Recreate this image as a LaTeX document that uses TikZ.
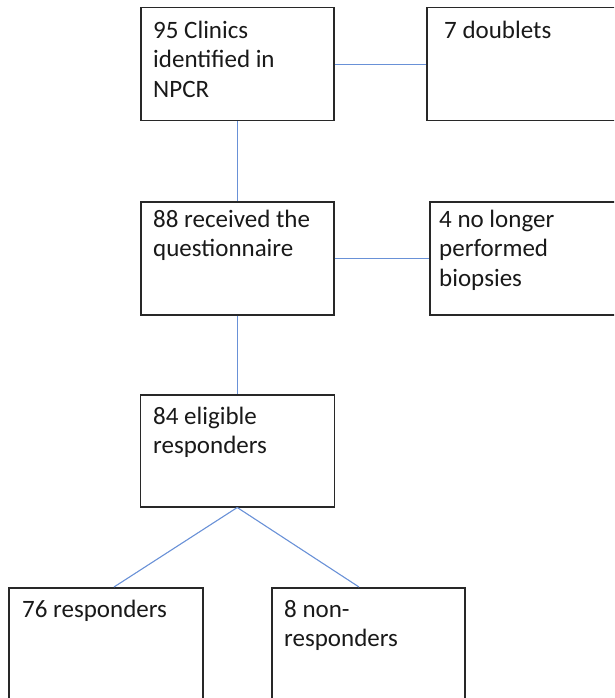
\documentclass[tikz,border=0pt]{standalone}
\usepackage{fontspec}
\setmainfont{Carlito}
\definecolor{connc}{RGB}{105,145,215}
\definecolor{boxc}{RGB}{40,40,40}
\begin{document}
\begin{tikzpicture}[x=1pt,y=-1pt,
  box/.style={draw=boxc, line width=1.5pt, anchor=north west, inner sep=0pt},
  txt/.style={anchor=north west, inner sep=0pt, align=left, text=black!90,
    font=\fontsize{25}{29.5}\selectfont},
  link/.style={draw=connc, line width=1.1pt}]
\useasboundingbox (0,0) rectangle (614,698);
\clip (0,0) rectangle (614,698);
% boxes
\node[box, minimum width=193pt, minimum height=113pt] (b1) at (140,7) {};
\node[box, minimum width=200pt, minimum height=113pt] (b2) at (426,7) {};
\node[box, minimum width=193pt, minimum height=113pt] (b3) at (140,201) {};
\node[box, minimum width=200pt, minimum height=113pt] (b4) at (429,201) {};
\node[box, minimum width=194pt, minimum height=112pt] (b5) at (139.5,394) {};
\node[box, minimum width=194pt, minimum height=111pt] (b6) at (8,587) {};
\node[box, minimum width=193pt, minimum height=111pt] (b7) at (271,587) {};
% texts (anchor at baseline - 0.7*29.5)
\node[txt] (t1) at (153,17.35) {\strut 95 Clinics\\identified in\\NPCR};
\node[txt] (t2) at (444,17.35) {\strut 7 doublets};
\node[txt] (t3) at (153,206.35) {\strut 88 received the\\questionnaire};
\node[txt] (t4) at (439,206.35) {\strut 4 no longer\\performed\\biopsies};
\node[txt] (t5) at (153,403.35) {\strut 84 eligible\\responders};
\node[txt] (t6) at (22,596.35) {\strut 76 responders};
\node[txt] (t7) at (284,596.35) {\strut 8 non-\\responders};
% connectors
\coordinate (e6) at (114,587);
\coordinate (e7) at (359,587);
\draw[link] (b1.east) -- (b2.west);
\draw[link] (b3.east) -- (b4.west);
\draw[link] (b1.south) -- (b3.north);
\draw[link] (b3.south) -- (b5.north);
\draw[link] (b5.south) -- (e6);
\draw[link] (b5.south) -- (e7);
\end{tikzpicture}
\end{document}
